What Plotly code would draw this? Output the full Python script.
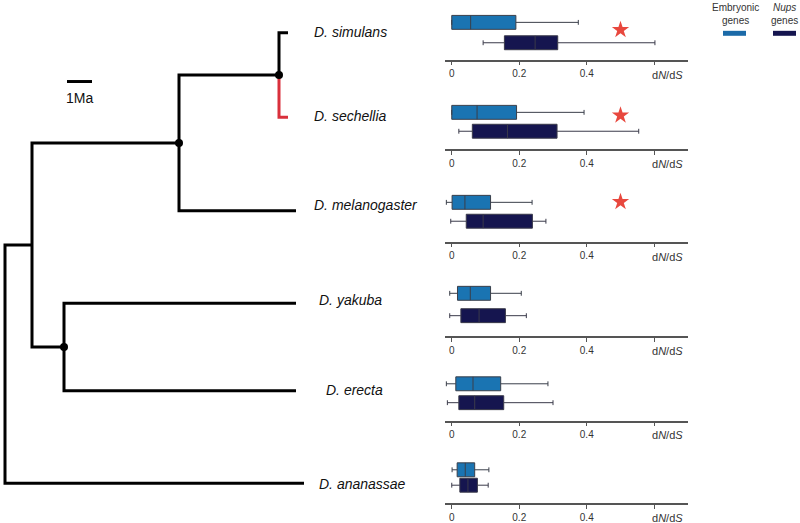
import plotly.graph_objects as go

W, H = 800, 523

# ---------------- data ----------------
species = ["D. simulans", "D. sechellia", "D. melanogaster",
           "D. yakuba", "D. erecta", "D. ananassae"]

# tree: tip depth (Ma from root) and tip rows (layout units, 0 = top)
tip_x = [11.32, 11.32, 11.64, 11.64, 11.64, 11.96]
tip_y = [33, 118, 212, 305, 393, 486]
node_names = ["A", "B", "C", "D", "R"]
node_x = [10.96, 6.96, 2.36, 1.08, 0.0]
node_children = [["D. simulans", "D. sechellia"],
                 ["A", "D. melanogaster"],
                 ["D. yakuba", "D. erecta"],
                 ["B", "C"],
                 ["D", "D. ananassae"]]
marked_nodes = ["A", "B", "C"]
red_branch = "D. sechellia"
scale_start_ma = 2.48
scale_len_ma = 1.0

# dN/dS boxplot statistics (per species)
emb_min = [0.0, 0.0, -0.016, -0.006, -0.016, 0.001]
emb_q1 = [0.0, 0.0, 0.001, 0.017, 0.012, 0.016]
emb_med = [0.056, 0.075, 0.039, 0.055, 0.063, 0.040]
emb_q3 = [0.190, 0.192, 0.115, 0.115, 0.145, 0.068]
emb_max = [0.375, 0.392, 0.238, 0.206, 0.285, 0.110]

nup_min = [0.093, 0.021, -0.003, -0.006, -0.013, 0.0]
nup_q1 = [0.156, 0.061, 0.043, 0.027, 0.021, 0.024]
nup_med = [0.247, 0.165, 0.093, 0.081, 0.068, 0.048]
nup_q3 = [0.314, 0.312, 0.239, 0.159, 0.154, 0.076]
nup_max = [0.602, 0.554, 0.279, 0.221, 0.300, 0.108]

star_species = [0, 1, 2]
star_value = [0.5, 0.5, 0.5]
star_row = [30, 116, 203]

tick_vals = [0, 0.2, 0.4, 0.6]
tick_text = ["0", "0.2", "0.4", ""]

# ---------------- layout helpers ----------------
emb_row = [22.5, 113, 203.5, 295, 386, 472.5]
nup_row = [43, 132, 222.5, 317.5, 405, 488]
axis_row = [61, 151, 244, 339, 424, 507]
label_px = [312, 312, 312, 317, 324, 317]
label_row = [32, 117, 206, 302, 392, 487]

EMB_COL = "#1a74b2"
NUP_COL = "#15154f"
STAR_COL = "#e8483e"
RED_COL = "#d9303c"
FONT = "Liberation Sans, Arial, sans-serif"

fig = go.Figure()

# ---------------- tree ----------------
pos = {}
for s, x, y in zip(species, tip_x, tip_y):
    pos[s] = (x, y)
for name, x, ch in zip(node_names, node_x, node_children):
    ys = [pos[c][1] for c in ch]
    pos[name] = (x, sum(ys) / len(ys))

for name, ch in zip(node_names, node_children):
    px, py = pos[name]
    for c in ch:
        cx, cy = pos[c]
        col = RED_COL if c == red_branch else "black"
        fig.add_trace(go.Scatter(x=[px, px, cx], y=[py, cy, cy], mode="lines",
                                 line=dict(color=col, width=3), xaxis="x", yaxis="y",
                                 hoverinfo="skip"))

fig.add_trace(go.Scatter(x=[pos[n][0] for n in marked_nodes],
                         y=[pos[n][1] for n in marked_nodes], mode="markers",
                         marker=dict(color="black", size=8), xaxis="x", yaxis="y",
                         hoverinfo="skip"))

# scale bar
fig.add_trace(go.Scatter(x=[scale_start_ma, scale_start_ma + scale_len_ma], y=[82, 82],
                         mode="lines", line=dict(color="black", width=3),
                         xaxis="x", yaxis="y", hoverinfo="skip"))

annotations = [dict(x=scale_start_ma + scale_len_ma / 2, y=99, xref="x", yref="y",
                    text="1Ma", showarrow=False, xanchor="center", yanchor="middle",
                    font=dict(family=FONT, size=14, color="#111"))]

for s, lx, ly in zip(species, label_px, label_row):
    annotations.append(dict(x=lx / W, y=1 - ly / H, xref="paper", yref="paper",
                            text="<i>%s</i>" % s, showarrow=False, xanchor="left",
                            yanchor="middle", font=dict(family=FONT, size=14, color="#111")))

# ---------------- boxplots ----------------
x0_px, x1_px = 445.0, 688.0
layout_axes = {}
for i in range(6):
    ax = "x%d" % (i + 2)
    fig.add_trace(go.Box(y=[emb_row[i]], q1=[emb_q1[i]], median=[emb_med[i]], q3=[emb_q3[i]],
                         lowerfence=[emb_min[i]], upperfence=[emb_max[i]], orientation="h",
                         width=14, fillcolor=EMB_COL, line=dict(color="#3a3f4a", width=1),
                         whiskerwidth=0.35, xaxis=ax, yaxis="y", hoverinfo="skip"))
    fig.add_trace(go.Box(y=[nup_row[i]], q1=[nup_q1[i]], median=[nup_med[i]], q3=[nup_q3[i]],
                         lowerfence=[nup_min[i]], upperfence=[nup_max[i]], orientation="h",
                         width=14, fillcolor=NUP_COL, line=dict(color="#3a3a4a", width=1),
                         whiskerwidth=0.35, xaxis=ax, yaxis="y", hoverinfo="skip"))
    layout_axes["xaxis%d" % (i + 2)] = dict(
        domain=[x0_px / W, x1_px / W], range=[-0.02, 0.70], anchor="free",
        position=1 - axis_row[i] / H, showline=True, linecolor="#555", linewidth=1.5,
        ticks="outside", ticklen=4, tickcolor="#555", tickvals=tick_vals, ticktext=tick_text,
        tickfont=dict(family=FONT, size=10, color="#333"), showgrid=False, zeroline=False,
        fixedrange=True)
    annotations.append(dict(x=685 / W, y=1 - (axis_row[i] + 14) / H, xref="paper", yref="paper",
                            text="d<i>N</i>/d<i>S</i>", showarrow=False, xanchor="right",
                            yanchor="middle", font=dict(family=FONT, size=11, color="#333")))

for si, v, r in zip(star_species, star_value, star_row):
    fig.add_trace(go.Scatter(x=[v], y=[r], mode="markers",
                             marker=dict(symbol="star", size=13, color=STAR_COL),
                             xaxis="x%d" % (si + 2), yaxis="y", hoverinfo="skip"))

# ---------------- legend ----------------
annotations += [
    dict(x=735 / W, y=1 - 14 / H, xref="paper", yref="paper", text="Embryonic<br>genes",
         showarrow=False, xanchor="center", yanchor="middle",
         font=dict(family=FONT, size=10, color="#333"), align="center"),
    dict(x=784 / W, y=1 - 14 / H, xref="paper", yref="paper", text="<i>Nups</i><br>genes",
         showarrow=False, xanchor="center", yanchor="middle",
         font=dict(family=FONT, size=10, color="#333"), align="center"),
]
shapes = [
    dict(type="rect", xref="paper", yref="paper", x0=723 / W, x1=746 / W,
         y0=1 - 36 / H, y1=1 - 31 / H, fillcolor="#1b6aa8", line=dict(width=0)),
    dict(type="rect", xref="paper", yref="paper", x0=773 / W, x1=796 / W,
         y0=1 - 36 / H, y1=1 - 31 / H, fillcolor=NUP_COL, line=dict(width=0)),
]

fig.update_layout(
    width=W, height=H, autosize=False,
    margin=dict(l=0, r=0, t=0, b=0),
    paper_bgcolor="white", plot_bgcolor="rgba(0,0,0,0)",
    showlegend=False, boxmode="overlay",
    xaxis=dict(domain=[0, 1], range=[-0.2, 31.8], visible=False, fixedrange=True),
    yaxis=dict(domain=[0, 1], range=[H, 0], visible=False, fixedrange=True),
    annotations=annotations, shapes=shapes,
    **layout_axes,
)

fig.write_html("out.html", config={"displayModeBar": False},
               post_script="document.body.style.margin='0px';document.body.style.overflow='hidden';")
